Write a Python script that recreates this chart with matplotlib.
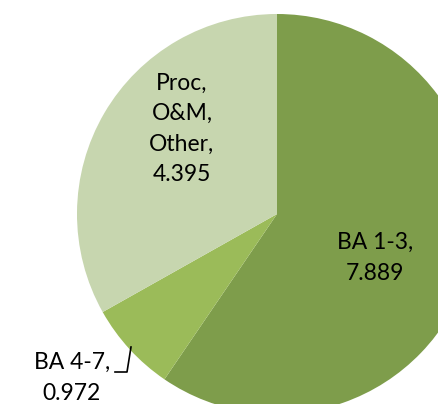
import matplotlib
matplotlib.use("Agg")
import matplotlib.pyplot as plt

categories = ["BA 1-3", "BA 4-7", "Proc,\nO&M,\nOther"]
values = [7.889, 0.972, 4.395]
colors = ["#7E9D4B", "#9BBB59", "#C7D6AF"]

plt.rcParams['font.family'] = ['Lato', 'DejaVu Sans']

W, H = 439, 404
fig = plt.figure(figsize=(W / 100, H / 100), dpi=100)
ax = fig.add_axes([0, 0, 1, 1])

cx, cy, r = 277, 214, 200
wedges, _ = ax.pie(values, colors=colors, startangle=-90, counterclock=True,
                   center=(cx, cy), radius=r, frame=True,
                   wedgeprops=dict(linewidth=0))
ax.set_xlim(0, W)
ax.set_ylim(H, 0)
ax.set_aspect('equal')
ax.axis('off')

labels = [f"{c},\n{v:.3f}" for c, v in zip(categories, values)]
fs = 16.5
ls = 1.55
ax.text(375, 258, labels[0], ha='center', va='center', fontsize=fs,
        linespacing=ls, color='black')
ax.text(182, 129, labels[2], ha='center', va='center', fontsize=fs,
        linespacing=ls, color='black')
ax.text(72, 378, labels[1], ha='center', va='center', fontsize=fs,
        linespacing=ls, color='black')
ax.plot([115, 127, 131], [372, 372, 347], color='black', linewidth=1.2)

fig.savefig("out.png", dpi=100)
